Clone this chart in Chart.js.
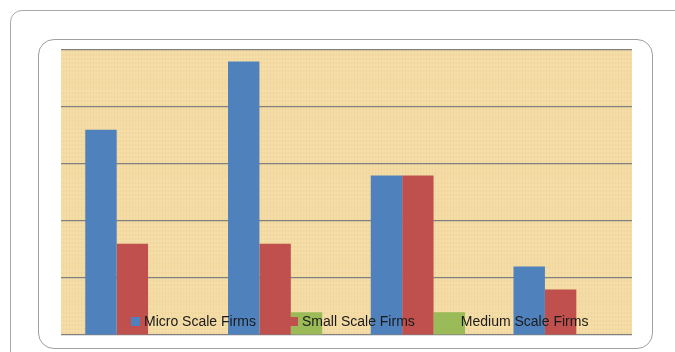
<!DOCTYPE html>
<html>
<head>
<meta charset="utf-8">
<script src="https://cdn.jsdelivr.net/npm/chart.js@4"></script>
<style>
  html, body { margin: 0; padding: 0; background: #fff; }
  body { width: 675px; height: 352px; position: relative; overflow: hidden; font-family: "Liberation Sans", Arial, sans-serif; }
  .outer { position: absolute; left: 10px; top: 10px; width: 700px; height: 400px; border: 1px solid #a9a9a9; border-radius: 12px; }
  .inner { position: absolute; left: 38px; top: 39px; width: 613px; height: 308px; border: 1px solid #a0a0a0; border-radius: 16px; }
  #wrap { position: absolute; left: 0; top: 0; width: 675px; height: 352px; }
  #legend { position: absolute; left: 131px; top: 313px; display: flex; font-size: 14px; color: #1a1a1a; white-space: nowrap; }
  #legend span.item { display: flex; align-items: center; margin-right: 33px; }
  #legend span.box { width: 9px; height: 9px; margin-right: 4px; display: inline-block; }
</style>
</head>
<body>
<div class="outer"></div>
<div class="inner"></div>
<div id="wrap"><canvas id="myChart" width="675" height="352"></canvas></div>
<div id="legend"></div>
<script>
const ctx = document.getElementById("myChart");

const categories = ['A', 'B', 'C', 'D']
const micro = [36, 48, 28, 12]
const small = [16, 16, 28, 8]
const medium = [0, 4, 4, 0]
const seriesNames = ['Micro Scale Firms', 'Small Scale Firms', 'Medium Scale Firms']
const colors = ['#4f81bd', '#c0504d', '#9bbb59']

// papyrus-like texture for the plot area
function makePaper(){
  const c = document.createElement('canvas')
  c.width = 120; c.height = 90
  const g = c.getContext('2d')
  g.fillStyle = '#f4dba3'
  g.fillRect(0, 0, 120, 90)
  for (let x = 0; x < 120; x += 3) {
    const a = 0.05 + 0.06 * Math.abs(Math.sin(x * 1.7))
    g.fillStyle = 'rgba(200,165,100,' + a + ')'
    g.fillRect(x, 0, 1, 90)
  }
  for (let y = 0; y < 90; y += 4) {
    const a = 0.04 + 0.05 * Math.abs(Math.cos(y * 2.3))
    g.fillStyle = 'rgba(255,240,200,' + a * 2 + ')'
    g.fillRect(0, y, 120, 2)
  }
  return g.createPattern(c, 'repeat')
}

const paperBg = {
  id: 'paperBg',
  beforeDraw(chart){
    const a = chart.chartArea
    const c = chart.ctx
    c.save()
    c.fillStyle = makePaper()
    c.fillRect(a.left, a.top, a.right - a.left, a.bottom - a.top)
    c.restore()
  }
}

const myChart = new Chart(ctx, {
  type: 'bar',
  data: {
    labels: categories,
    datasets: [
      { label: seriesNames[0], data: micro, backgroundColor: colors[0] },
      { label: seriesNames[1], data: small, backgroundColor: colors[1] },
      { label: seriesNames[2], data: medium, backgroundColor: colors[2] }
    ]
  },
  options: {
    responsive: false,
    animation: false,
    layout: { padding: { left: 61, right: 43, top: 50, bottom: 17 } },
    datasets: { bar: { categoryPercentage: 0.66, barPercentage: 1 } },
    scales: {
      x: { display: false },
      y: {
        min: 0, max: 50,
        ticks: { stepSize: 10, display: false },
        border: { display: false },
        grid: { color: '#808080', lineWidth: 1.2, drawTicks: false }
      }
    },
    plugins: {
      legend: { display: false },
      tooltip: { enabled: false }
    }
  },
  plugins: [paperBg]
});

const legendEl = document.getElementById('legend')
myChart.data.datasets.forEach(ds => {
  const item = document.createElement('span')
  item.className = 'item'
  const box = document.createElement('span')
  box.className = 'box'
  box.style.background = ds.backgroundColor
  item.appendChild(box)
  item.appendChild(document.createTextNode(ds.label))
  legendEl.appendChild(item)
})
</script>
</body>
</html>
